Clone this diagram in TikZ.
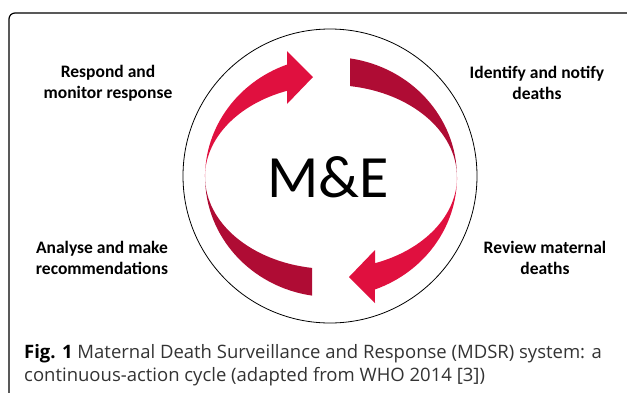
\documentclass[tikz,border=0pt]{standalone}
\usepackage{fontspec}
\setmainfont{Carlito}
\newfontfamily\capfont{Open Sans}
\definecolor{brightred}{HTML}{E0103F}
\definecolor{deepred}{HTML}{AF0C34}
\definecolor{capgray}{HTML}{333333}
\begin{document}
\begin{tikzpicture}[x=1pt,y=-1pt,
    lbl/.style={font=\bfseries\fontsize{17.5}{21}\selectfont,align=center,inner sep=0pt},
    arrowpart/.style={fill=brightred,draw=none},
    bandpart/.style={fill=deepred,draw=none}]
    \useasboundingbox (0,0) rectangle (627,392);
    % frame
    \draw[line width=1.2pt,rounded corners=6pt] (9,400) -- (9,13) -- (640,13);
    \draw[line width=0.8pt] (330,176) circle[radius=147];

    % top-left arrow
    \fill[arrowpart] (205,177) arc[start angle=180,end angle=249.6,x radius=126,y radius=120]
        -- (287,51) -- (313,77) -- (287,104) -- (287,90.8)
        arc[start angle=249.6,end angle=180,x radius=126,y radius=92] -- cycle;
    % top-right band
    \fill[bandpart] (350,58.4) arc[start angle=278.7,end angle=360,x radius=126,y radius=120]
        arc[start angle=360,end angle=278.7,x radius=126,y radius=92] -- cycle;
    % bottom-right arrow
    \fill[arrowpart] (457,177) arc[start angle=0,end angle=69.6,x radius=126,y radius=120]
        -- (375,303) -- (349,277) -- (375,250) -- (375,263.2)
        arc[start angle=69.6,end angle=0,x radius=126,y radius=92] -- cycle;
    % bottom-left band
    \fill[bandpart] (312,295.6) arc[start angle=98.7,end angle=180,x radius=126,y radius=120]
        arc[start angle=180,end angle=98.7,x radius=126,y radius=92] -- cycle;

    \node[font=\fontsize{60}{60}\selectfont,inner sep=0pt] (me) at (328,177) {M\&E};

    \node[lbl] (respond) at (108,83) {Respond and\\monitor response};
    \node[lbl] (identify) at (537,83) {Identify and notify\\deaths};
    \node[lbl] (analyse) at (102,258) {Analyse and make\\recommendations};
    \node[lbl] (review) at (545,258) {Review maternal\\deaths};

    \node[anchor=west,align=left,inner sep=0pt,text=capgray,
        font=\capfont\fontsize{18.5}{23}\selectfont] (caption) at (24,365)
        {{\color{black}\bfseries Fig. 1} Maternal Death Surveillance and Response (MDSR) system: a\\
        continuous-action cycle (adapted from WHO 2014 [3])};
\end{tikzpicture}
\end{document}
